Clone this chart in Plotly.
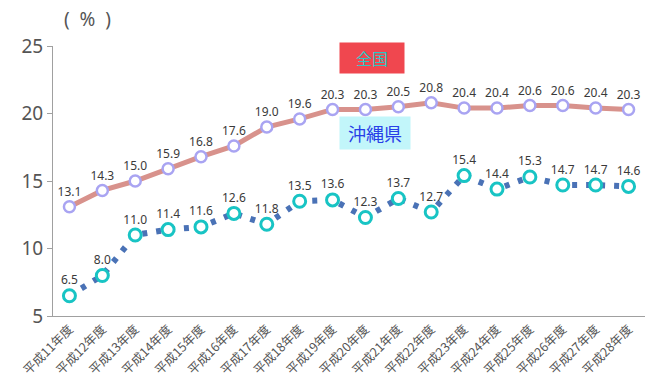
import plotly.graph_objects as go

years = ["平成11年度", "平成12年度", "平成13年度", "平成14年度", "平成15年度", "平成16年度",
         "平成17年度", "平成18年度", "平成19年度", "平成20年度", "平成21年度", "平成22年度",
         "平成23年度", "平成24年度", "平成25年度", "平成26年度", "平成27年度", "平成28年度"]
national = [13.1, 14.3, 15.0, 15.9, 16.8, 17.6, 19.0, 19.6, 20.3, 20.3, 20.5, 20.8,
            20.4, 20.4, 20.6, 20.6, 20.4, 20.3]
okinawa = [6.5, 8.0, 11.0, 11.4, 11.6, 12.6, 11.8, 13.5, 13.6, 12.3, 13.7, 12.7,
           15.4, 14.4, 15.3, 14.7, 14.7, 14.6]

x = list(range(len(years)))
cjk = "Noto Sans CJK JP, sans-serif"
num_font = "Noto Sans, sans-serif"

fig = go.Figure()

# national average: thick salmon line with lavender ring markers
fig.add_trace(go.Scatter(
    x=x, y=national, mode="lines+markers+text",
    line=dict(color="#d8928c", width=5),
    marker=dict(size=11, color="white", line=dict(color="#a9a4f2", width=2.5)),
    text=[f"{v:.1f}" for v in national], textposition="top center",
    textfont=dict(size=12, color="#3a3a3a", family=num_font),
    cliponaxis=False, showlegend=False,
))

# Okinawa: sparse dotted blue line with cyan ring markers
fig.add_trace(go.Scatter(
    x=x, y=okinawa, mode="lines",
    line=dict(color="#4a72b6", width=6, dash="5px,9px"),
    showlegend=False,
))
fig.add_trace(go.Scatter(
    x=x, y=okinawa, mode="markers+text",
    marker=dict(size=12, color="white", line=dict(color="#18c4c4", width=3)),
    text=[f"{v:.1f}" for v in okinawa], textposition="top center",
    textfont=dict(size=12, color="#3a3a3a", family=num_font),
    cliponaxis=False, showlegend=False,
))

fig.add_annotation(x=9.2, y=24.1, text="全国", showarrow=False,
                   font=dict(size=16, color="#2ec6c6", family=cjk),
                   bgcolor="#f0474f", width=62, height=28, xref="x", yref="y")
fig.add_annotation(x=9.3, y=18.55, text="沖縄県", showarrow=False,
                   font=dict(size=18, color="#2840e8", family=cjk),
                   bgcolor="#c2f6fa", width=68, height=30, xref="x", yref="y")
fig.add_annotation(x=0.015, y=1, xref="paper", yref="paper", xanchor="left", yanchor="bottom",
                   yshift=12, text="(  %  )", showarrow=False,
                   font=dict(size=19, color="#555555", family=num_font))

fig.update_layout(
    width=645, height=388,
    margin=dict(l=53, r=0, t=46, b=72),
    paper_bgcolor="white", plot_bgcolor="white",
    xaxis=dict(
        range=[-0.5, 17.5], tickmode="array", tickvals=x, ticktext=years,
        tickangle=-45, showgrid=False, zeroline=False,
        showline=True, linecolor="#a0a0a0", linewidth=1, ticks="",
        tickfont=dict(size=12.5, color="#555555", family=cjk),
    ),
    yaxis=dict(
        range=[5, 25], tickvals=[5, 10, 15, 20, 25], showgrid=False, zeroline=False,
        showline=True, linecolor="#a0a0a0", linewidth=1, ticks="outside",
        ticklen=5, tickcolor="#a0a0a0",
        tickfont=dict(size=19, color="#555555", family=num_font),
    ),
)

fig.write_html("out.html")
